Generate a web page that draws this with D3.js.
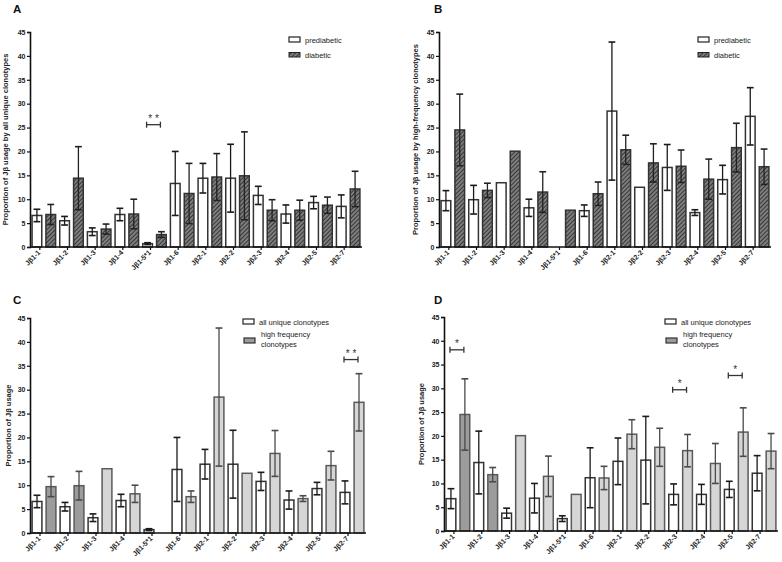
<!DOCTYPE html>
<html>
<head>
<meta charset="utf-8">
<script src="https://cdn.jsdelivr.net/npm/d3@7"></script>
<style>
  html, body { margin: 0; padding: 0; background: #fff; }
  svg { display: block; font-family: "Liberation Sans", Arial, sans-serif; }
</style>
</head>
<body>
<svg id="chart" width="782" height="562"></svg>
<script>
// ---------- DATA ----------
const categories = ["Jβ1-1","Jβ1-2","Jβ1-3","Jβ1-4","Jβ1-5*1","Jβ1-6","Jβ2-1","Jβ2-2","Jβ2-3","Jβ2-4","Jβ2-5","Jβ2-7"];
const yTicks = [0,5,10,15,20,25,30,35,40,45];

// all unique clonotypes
const uniquePre    = [6.6, 5.5, 3.2, 6.8, 0.7, 13.3, 14.4, 14.4, 10.8, 6.9, 9.3, 8.5];
const uniquePreErr = [1.3, 0.9, 0.8, 1.3, 0.2, 6.7, 3.1, 7.1, 1.9, 1.9, 1.3, 2.4];
const uniqueDia    = [6.8, 14.4, 3.75, 6.9, 2.6, 11.2, 14.65, 14.9, 7.7, 7.7, 8.75, 12.15];
const uniqueDiaErr = [2.1, 6.6, 1.05, 3.1, 0.6, 6.3, 4.9, 9.2, 2.2, 2.1, 1.7, 3.7];
// high-frequency clonotypes
const highPre      = [9.7, 9.9, 13.45, 8.2, 0, 7.6, 28.45, 12.5, 16.65, 7.2, 14.1, 27.35];
const highPreErr   = [2.1, 3.0, 0, 1.8, 0, 1.2, 14.45, 0, 4.8, 0.6, 3.0, 6.0];
const highDia      = [24.5, 11.85, 20.05, 11.5, 7.7, 11.15, 20.35, 17.6, 16.9, 14.2, 20.8, 16.8];
const highDiaErr   = [7.5, 1.5, 0, 4.25, 0, 2.45, 3.05, 4.0, 3.4, 4.2, 5.1, 3.7];

// categories whose high-frequency bar is drawn in darker grey (panels C, D)
const darkerHigh = ["Jβ1-1","Jβ1-2"];

const panelLetters = ["A","B","C","D"];
const yTitles = [
  "Proportion of Jβ usage by all unique clonotypes",
  "Proportion of Jβ usage by high-frequency clonotypes",
  "Proportion of Jβ usage",
  "Proportion of Jβ usage"
];
const legendAB = ["prediabetic","diabetic"];
const legendCD = ["all unique clonotypes",["high frequency","clonotypes"]];

// significance brackets: panel, category, height, label
const sigPanels = ["A","C","D","D","D"];
const sigCats   = ["Jβ1-5*1","Jβ2-7","Jβ1-1","Jβ2-3","Jβ2-5"];
const sigValues = [25.6, 36.3, 38.1, 29.7, 32.7];
const sigLabels = ["* *","* *","*","*","*"];

// ---------- DRAW ----------
const svg = d3.select("#chart");
const defs = svg.append("defs");
const pat = defs.append("pattern").attr("id","hatch").attr("patternUnits","userSpaceOnUse")
  .attr("width",3).attr("height",3).attr("patternTransform","rotate(45)");
pat.append("rect").attr("width",3).attr("height",3).attr("fill","#7e7e7e");
pat.append("line").attr("x1",0).attr("y1",0).attr("x2",0).attr("y2",3)
  .attr("stroke","#2a2a2a").attr("stroke-width",1.7);

const panels = [
  {letter:"A", lx:13, ly:13, ax:30,  xe:362, y0:247, y45:32,  tx:8,   s1:uniquePre, e1:uniquePreErr, s2:uniqueDia, e2:uniqueDiaErr, kind:"AB",
   leg:{x:289, y:37}},
  {letter:"B", lx:434, ly:13, ax:439, xe:771, y0:247, y45:32, tx:418, s1:highPre, e1:highPreErr, s2:highDia, e2:highDiaErr, kind:"AB",
   leg:{x:698, y:37}},
  {letter:"C", lx:13, ly:304, ax:30,  xe:366, y0:533, y45:318, tx:11,  s1:uniquePre, e1:uniquePreErr, s2:highPre, e2:highPreErr, kind:"CD",
   leg:{x:243, y:319}},
  {letter:"D", lx:434, ly:304, ax:444, xe:778, y0:531, y45:317, tx:424, s1:uniqueDia, e1:uniqueDiaErr, s2:highDia, e2:highDiaErr, kind:"CD",
   leg:{x:665, y:319}}
];

panels.forEach((p, pi) => {
  const g = svg.append("g");
  const y = d3.scaleLinear().domain([0,45]).range([p.y0, p.y45]);
  const slots = [];
  categories.forEach(c => { slots.push(c+"|1"); slots.push(c+"|2"); });
  const xb = d3.scaleBand().domain(slots).range([p.ax, p.xe]).paddingInner(0.3).paddingOuter(0.15);
  const bw = xb.bandwidth();

  // panel letter
  g.append("text").attr("x",p.lx).attr("y",p.ly).text(panelLetters[pi])
    .attr("font-size",11.5).attr("font-weight","bold").attr("fill","#111");

  // y title
  g.append("text").attr("transform",`translate(${p.tx},${(p.y0+p.y45)/2}) rotate(-90)`)
    .attr("text-anchor","middle").attr("font-size",7.5).attr("font-weight","bold").attr("fill","#222")
    .text(yTitles[pi]);

  // bars
  const fill2 = c => {
    if (p.kind === "AB") return "url(#hatch)";
    return darkerHigh.includes(c) ? "#9c9c9c" : "#d6d6d6";
  };
  const bars = [];
  categories.forEach((c,i) => {
    bars.push({c, k:1, v:p.s1[i], e:p.e1[i]});
    bars.push({c, k:2, v:p.s2[i], e:p.e2[i]});
  });
  bars.filter(d => d.v > 0).forEach(d => {
    const x = xb(d.c+"|"+d.k);
    const isWhite = d.k === 1;
    g.append("rect").attr("x",x).attr("y",y(d.v)).attr("width",bw).attr("height",y(0)-y(d.v))
      .attr("fill", isWhite ? "#fff" : fill2(d.c))
      .attr("stroke", isWhite ? "#333" : (p.kind==="AB" ? "#333" : "#5a5a5a"))
      .attr("stroke-width",1.5);
    if (d.e > 0) {
      const cx = x + bw/2, cw = bw*0.35;
      const col = isWhite ? "#1a1a1a" : (p.kind==="AB" ? "#222" : "#4a4a4a");
      const eg = g.append("g").attr("stroke",col).attr("stroke-width",1.3);
      eg.append("line").attr("x1",cx).attr("x2",cx).attr("y1",y(d.v-d.e)).attr("y2",y(d.v+d.e));
      eg.append("line").attr("x1",cx-cw).attr("x2",cx+cw).attr("y1",y(d.v+d.e)).attr("y2",y(d.v+d.e)).attr("stroke-width",1.6);
      eg.append("line").attr("x1",cx-cw).attr("x2",cx+cw).attr("y1",y(d.v-d.e)).attr("y2",y(d.v-d.e)).attr("stroke-width",1.6);
    }
  });

  // y axis
  const yAxis = d3.axisLeft(y).tickValues(yTicks).tickSize(3).tickPadding(1.5);
  const ya = g.append("g").attr("transform",`translate(${p.ax},0)`).call(yAxis);
  ya.select(".domain").attr("stroke","#111").attr("stroke-width",1.6);
  ya.selectAll(".tick line").attr("stroke","#111").attr("stroke-width",1.2);
  ya.selectAll(".tick text").attr("font-size",7).attr("font-weight","bold").attr("fill","#222")
    .attr("font-family","Liberation Sans, Arial, sans-serif");

  // x axis
  g.append("line").attr("x1",p.ax).attr("x2",p.xe).attr("y1",p.y0).attr("y2",p.y0)
    .attr("stroke","#111").attr("stroke-width",1.6);
  categories.forEach(c => {
    const cx = (xb(c+"|1") + xb(c+"|2") + bw)/2 - 4;
    g.append("line").attr("x1",cx).attr("x2",cx).attr("y1",p.y0).attr("y2",p.y0+3)
      .attr("stroke","#111").attr("stroke-width",1.2);
    g.append("text").attr("transform",`translate(${cx+1},${p.y0+6}) rotate(-45)`)
      .attr("text-anchor","end").attr("font-size",7).attr("font-weight","bold").attr("fill","#222")
      .text(c);
  });

  // legend
  const L = p.leg;
  if (p.kind === "AB") {
    g.append("rect").attr("x",L.x).attr("y",L.y).attr("width",11).attr("height",5)
      .attr("fill","#fff").attr("stroke","#222").attr("stroke-width",1.2);
    g.append("text").attr("x",L.x+16).attr("y",L.y+5.5).attr("font-size",7.5).attr("fill","#222").text(legendAB[0]);
    g.append("rect").attr("x",L.x).attr("y",L.y+15.5).attr("width",11).attr("height",4.5)
      .attr("fill","url(#hatch)").attr("stroke","#222").attr("stroke-width",1);
    g.append("text").attr("x",L.x+16).attr("y",L.y+20.5).attr("font-size",7.5).attr("fill","#222").text(legendAB[1]);
  } else {
    g.append("rect").attr("x",L.x).attr("y",L.y).attr("width",11).attr("height",5)
      .attr("fill","#fff").attr("stroke","#222").attr("stroke-width",1.2);
    g.append("text").attr("x",L.x+16).attr("y",L.y+6).attr("font-size",7.5).attr("fill","#222").text(legendCD[0]);
    g.append("rect").attr("x",L.x+1).attr("y",L.y+19).attr("width",11).attr("height",5)
      .attr("fill","#9c9c9c").attr("stroke","#333").attr("stroke-width",1.2);
    g.append("text").attr("x",L.x+18).attr("y",L.y+17.5).attr("font-size",7.5).attr("fill","#222").text(legendCD[1][0]);
    g.append("text").attr("x",L.x+18).attr("y",L.y+27.5).attr("font-size",7.5).attr("fill","#222").text(legendCD[1][1]);
  }

  // significance brackets
  sigPanels.forEach((sp, si) => {
    if (sp !== p.letter) return;
    const c = sigCats[si];
    const x1 = xb(c+"|1") + bw/2 - 1, x2 = xb(c+"|2") + bw/2 - 1;
    const yy = y(sigValues[si]);
    const bg = g.append("g").attr("stroke","#333").attr("stroke-width",1.3);
    bg.append("line").attr("x1",x1).attr("x2",x2).attr("y1",yy).attr("y2",yy);
    bg.append("line").attr("x1",x1).attr("x2",x1).attr("y1",yy-3).attr("y2",yy+3);
    bg.append("line").attr("x1",x2).attr("x2",x2).attr("y1",yy-3).attr("y2",yy+3);
    g.append("text").attr("x",(x1+x2)/2).attr("y",yy+3.5).attr("dy","-0.62em").attr("text-anchor","middle")
      .attr("font-size",10).attr("fill","#333").text(sigLabels[si]);
  });
});
</script>
</body>
</html>
